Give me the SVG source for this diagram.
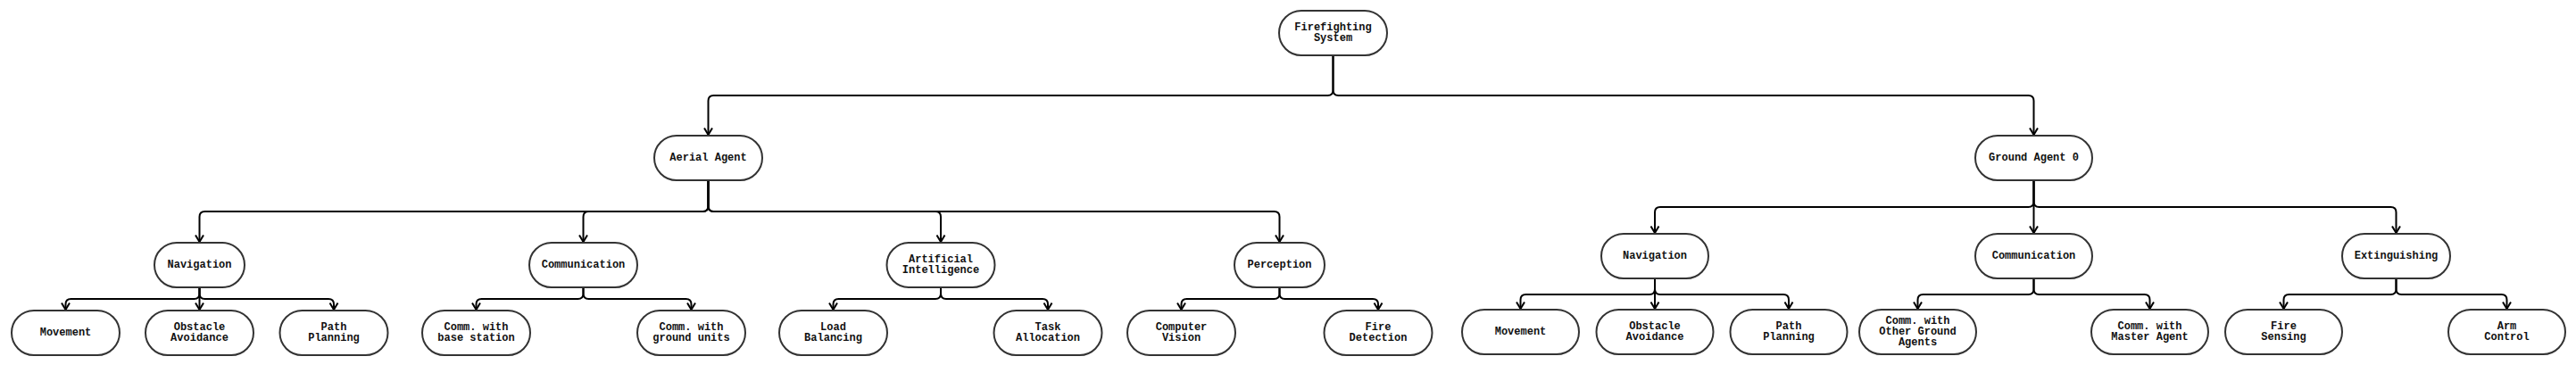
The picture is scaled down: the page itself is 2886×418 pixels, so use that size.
<svg xmlns="http://www.w3.org/2000/svg" width="2886" height="418" viewBox="0 0 2886 418">
<style>
.n rect{fill:#fff;stroke:#333;stroke-width:2}
.n text{font-family:"Liberation Mono","Courier New",monospace;font-size:12px;font-weight:bold;fill:#111;text-anchor:middle;dominant-baseline:central}
.c path{fill:none;stroke:#000;stroke-width:2;marker-end:url(#ah)}
</style>
<defs>
<marker id="ah" markerUnits="userSpaceOnUse" viewBox="-9 -6 11 12" markerWidth="11" markerHeight="12" refX="0" refY="0" orient="auto">
<path d="M-7.5,-4.5 L0,0 L-7.5,4.5" fill="none" stroke="#000" stroke-width="2"/>
</marker>
</defs>
<rect width="2886" height="418" fill="#fff"/>
<g id="connectors" class="c">
<path d="M1493.5,62 V101 Q1493.5,107 1487.5,107 H799.5 Q793.5,107 793.5,113 V151"/>
<path d="M1493.5,62 V101 Q1493.5,107 1499.5,107 H2272.5 Q2278.5,107 2278.5,113 V151"/>
<path d="M793.5,202 V231 Q793.5,237 787.5,237 H229.5 Q223.5,237 223.5,243 V271"/>
<path d="M793.5,202 V231 Q793.5,237 787.5,237 H659.5 Q653.5,237 653.5,243 V271"/>
<path d="M793.5,202 V231 Q793.5,237 799.5,237 H1048 Q1054,237 1054,243 V271"/>
<path d="M793.5,202 V231 Q793.5,237 799.5,237 H1427.5 Q1433.5,237 1433.5,243 V271"/>
<path d="M2278.5,202 V226 Q2278.5,232 2272.5,232 H1860 Q1854,232 1854,238 V261"/>
<path d="M2278.5,202 V261"/>
<path d="M2278.5,202 V226 Q2278.5,232 2284.5,232 H2678.5 Q2684.5,232 2684.5,238 V261"/>
<path d="M223.5,322 V329 Q223.5,335 217.5,335 H79.5 Q73.5,335 73.5,341 V347"/>
<path d="M223.5,322 V347"/>
<path d="M223.5,322 V329 Q223.5,335 229.5,335 H368 Q374,335 374,341 V347"/>
<path d="M653.5,322 V329 Q653.5,335 647.5,335 H539.5 Q533.5,335 533.5,341 V347"/>
<path d="M653.5,322 V329 Q653.5,335 659.5,335 H768.5 Q774.5,335 774.5,341 V347"/>
<path d="M1054,322 V329 Q1054,335 1048,335 H939.5 Q933.5,335 933.5,341 V347"/>
<path d="M1054,322 V329 Q1054,335 1060,335 H1168 Q1174,335 1174,341 V347"/>
<path d="M1433.5,322 V329 Q1433.5,335 1427.5,335 H1329.5 Q1323.5,335 1323.5,341 V347"/>
<path d="M1433.5,322 V329 Q1433.5,335 1439.5,335 H1538 Q1544,335 1544,341 V347"/>
<path d="M1854,312 V324 Q1854,330 1848,330 H1709.5 Q1703.5,330 1703.5,336 V346"/>
<path d="M1854,312 V346"/>
<path d="M1854,312 V324 Q1854,330 1860,330 H1998 Q2004,330 2004,336 V346"/>
<path d="M2278.5,312 V324 Q2278.5,330 2272.5,330 H2154.5 Q2148.5,330 2148.5,336 V346"/>
<path d="M2278.5,312 V324 Q2278.5,330 2284.5,330 H2402.5 Q2408.5,330 2408.5,336 V346"/>
<path d="M2684.5,312 V324 Q2684.5,330 2678.5,330 H2564.5 Q2558.5,330 2558.5,336 V346"/>
<path d="M2684.5,312 V324 Q2684.5,330 2690.5,330 H2802.5 Q2808.5,330 2808.5,336 V346"/>
</g>
<g id="root" class="n"><rect x="1433" y="12" width="121" height="50" rx="25"/><text x="1493.5" y="31">Firefighting</text><text x="1493.5" y="43">System</text></g>
<g id="aerial" class="n"><rect x="733" y="152" width="121" height="50" rx="25"/><text x="793.5" y="177">Aerial Agent</text></g>
<g id="ground" class="n"><rect x="2213" y="152" width="131" height="50" rx="25"/><text x="2278.5" y="177">Ground Agent 0</text></g>
<g id="a-nav" class="n"><rect x="173" y="272" width="101" height="50" rx="25"/><text x="223.5" y="297">Navigation</text></g>
<g id="a-comm" class="n"><rect x="593" y="272" width="121" height="50" rx="25"/><text x="653.5" y="297">Communication</text></g>
<g id="a-ai" class="n"><rect x="993.5" y="272" width="121" height="50" rx="25"/><text x="1054" y="291">Artificial</text><text x="1054" y="303">Intelligence</text></g>
<g id="a-perc" class="n"><rect x="1383" y="272" width="101" height="50" rx="25"/><text x="1433.5" y="297">Perception</text></g>
<g id="a-move" class="n"><rect x="13" y="348" width="121" height="50" rx="25"/><text x="73.5" y="373">Movement</text></g>
<g id="a-obst" class="n"><rect x="163" y="348" width="121" height="50" rx="25"/><text x="223.5" y="367">Obstacle</text><text x="223.5" y="379">Avoidance</text></g>
<g id="a-path" class="n"><rect x="313.5" y="348" width="121" height="50" rx="25"/><text x="374" y="367">Path</text><text x="374" y="379">Planning</text></g>
<g id="a-base" class="n"><rect x="473" y="348" width="121" height="50" rx="25"/><text x="533.5" y="367">Comm. with</text><text x="533.5" y="379">base station</text></g>
<g id="a-gu" class="n"><rect x="714" y="348" width="121" height="50" rx="25"/><text x="774.5" y="367">Comm. with</text><text x="774.5" y="379">ground units</text></g>
<g id="a-load" class="n"><rect x="873" y="348" width="121" height="50" rx="25"/><text x="933.5" y="367">Load</text><text x="933.5" y="379">Balancing</text></g>
<g id="a-task" class="n"><rect x="1113.5" y="348" width="121" height="50" rx="25"/><text x="1174" y="367">Task</text><text x="1174" y="379">Allocation</text></g>
<g id="a-cv" class="n"><rect x="1263" y="348" width="121" height="50" rx="25"/><text x="1323.5" y="367">Computer</text><text x="1323.5" y="379">Vision</text></g>
<g id="a-fd" class="n"><rect x="1483.5" y="348" width="121" height="50" rx="25"/><text x="1544" y="367">Fire</text><text x="1544" y="379">Detection</text></g>
<g id="g-nav" class="n"><rect x="1794" y="262" width="120" height="50" rx="25"/><text x="1854" y="287">Navigation</text></g>
<g id="g-comm" class="n"><rect x="2213" y="262" width="131" height="50" rx="25"/><text x="2278.5" y="287">Communication</text></g>
<g id="g-ext" class="n"><rect x="2624" y="262" width="121" height="50" rx="25"/><text x="2684.5" y="287">Extinguishing</text></g>
<g id="g-move" class="n"><rect x="1638" y="347" width="131" height="50" rx="25"/><text x="1703.5" y="372">Movement</text></g>
<g id="g-obst" class="n"><rect x="1788.5" y="347" width="131" height="50" rx="25"/><text x="1854" y="366">Obstacle</text><text x="1854" y="378">Avoidance</text></g>
<g id="g-path" class="n"><rect x="1938.5" y="347" width="131" height="50" rx="25"/><text x="2004" y="366">Path</text><text x="2004" y="378">Planning</text></g>
<g id="g-other" class="n"><rect x="2083" y="347" width="131" height="50" rx="25"/><text x="2148.5" y="360">Comm. with</text><text x="2148.5" y="372">Other Ground</text><text x="2148.5" y="384">Agents</text></g>
<g id="g-master" class="n"><rect x="2343" y="347" width="131" height="50" rx="25"/><text x="2408.5" y="366">Comm. with</text><text x="2408.5" y="378">Master Agent</text></g>
<g id="g-fs" class="n"><rect x="2493" y="347" width="131" height="50" rx="25"/><text x="2558.5" y="366">Fire</text><text x="2558.5" y="378">Sensing</text></g>
<g id="g-arm" class="n"><rect x="2743" y="347" width="131" height="50" rx="25"/><text x="2808.5" y="366">Arm</text><text x="2808.5" y="378">Control</text></g>
</svg>
